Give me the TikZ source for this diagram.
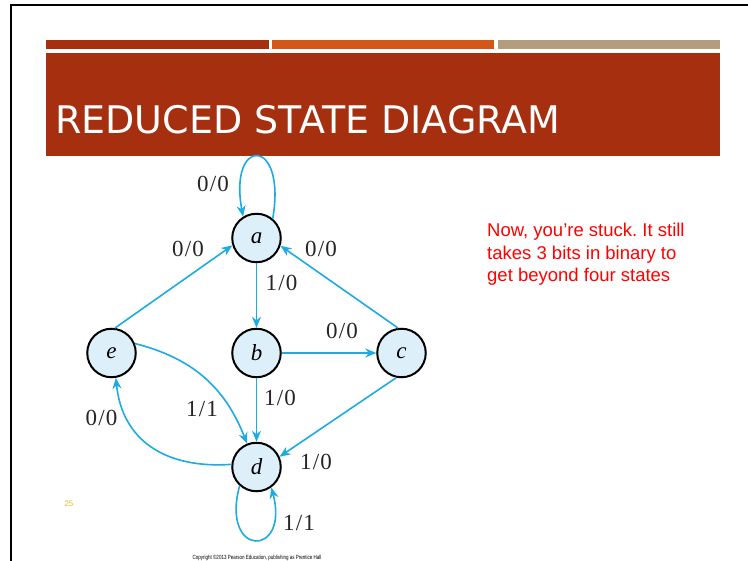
\documentclass[tikz,border=0pt]{standalone}
\usepackage{fontspec}
\setmainfont{Liberation Serif}
\newfontfamily\titlefont{DejaVu Sans}
\newfontfamily\arialfont{Liberation Sans}
\usetikzlibrary{arrows.meta}
\definecolor{rust}{HTML}{A52F0F}
\definecolor{orangebar}{HTML}{D35718}
\definecolor{tanbar}{HTML}{B39D7D}
\definecolor{edgeblue}{HTML}{1EAAE2}
\definecolor{nodefill}{HTML}{DDF0FA}
\definecolor{pagenum}{HTML}{E8B830}
\tikzset{
  state/.style={circle, draw=black, line width=2pt, fill=nodefill, minimum size=48.5pt, inner sep=0pt, font=\fontsize{23}{23}\selectfont\itshape},
  lbl/.style={inner sep=0pt, text=black!85, font=\fontsize{23}{23}\selectfont},
  edge/.style={draw=edgeblue, line width=1.6pt, -{Stealth[length=11pt,width=9pt]}},
}
\newcommand{\fr}[2]{#1\kern1.2pt/\kern1.2pt#2}
\frenchspacing
\begin{document}
\begin{tikzpicture}[x=1pt,y=-1pt]
\useasboundingbox (0,0) rectangle (748,561);
\fill[white] (0,0) rectangle (748,561);
% frame
\draw[line width=2.5pt] (11,561) -- (11,5) -- (748,5);
% bars
\fill[rust] (46,40) rectangle (269,49);
\fill[orangebar] (272,40) rectangle (494,49);
\fill[tanbar] (498,40) rectangle (720,49);
\fill[rust] (46,53) rectangle (720,156);
\node[anchor=base west, inner sep=0pt, text=white, font=\titlefont\fontsize{38}{38}\selectfont] (title) at (55,134) {REDUCED STATE DIAGRAM};
% states
\node[state] (a) at (256.5,238) {a};
\node[state] (b) at (256.5,353) {b};
\node[state] (c) at (401.5,353) {c};
\node[state] (e) at (111.5,353) {e};
\node[state] (d) at (256.5,467) {d};
% edges
\draw[edge] (a.50) .. controls (287,136) and (228,136) .. (a.122);
\draw[edge] (e.82) -- (a.197);
\draw[edge] (c.98) -- (a.-18);
\draw[edge] (a) -- (b);
\draw[edge] (b) -- (c);
\draw[edge] (b) -- (d);
\draw[edge] (c.-102) -- (d.24);
\draw[edge] (e.22) .. controls (192,358) and (225,387) .. (d.112);
\draw[edge] (d.174) .. controls (165,469) and (122,440) .. (e.-80);
\draw[edge] (d.228) .. controls (220,558) and (290,558) .. (d.-54);
% labels
\node[lbl] (l1) at (213,184) {\fr{0}{0}};
\node[lbl] (l2) at (188,249) {\fr{0}{0}};
\node[lbl] (l3) at (321,249) {\fr{0}{0}};
\node[lbl] (l4) at (281.5,283) {\fr{1}{0}};
\node[lbl] (l5) at (342,331) {\fr{0}{0}};
\node[lbl] (l6) at (202,409) {\fr{1}{1}};
\node[lbl] (l7) at (101.5,418) {\fr{0}{0}};
\node[lbl] (l8) at (280,398) {\fr{1}{0}};
\node[lbl] (l9) at (316,462) {\fr{1}{0}};
\node[lbl] (l10) at (299,523) {\fr{1}{1}};
% side text
\node[anchor=base west, inner sep=0pt, text=red, align=left, font=\arialfont\fontsize{18.5}{22.5}\selectfont] (note) at (487,282) {Now, you’re stuck. It still\\takes 3 bits in binary to\\get beyond four states};
\node[text=pagenum, inner sep=0pt, font=\arialfont\fontsize{8}{8}\selectfont] (num) at (69,504) {25};
\node[inner sep=0pt, font=\arialfont\fontsize{6}{6}\selectfont] (copy) at (257,558) {\scalebox{0.75}[1]{Copyright ©2013 Pearson Education, publishing as Prentice Hall}};
\end{tikzpicture}
\end{document}
